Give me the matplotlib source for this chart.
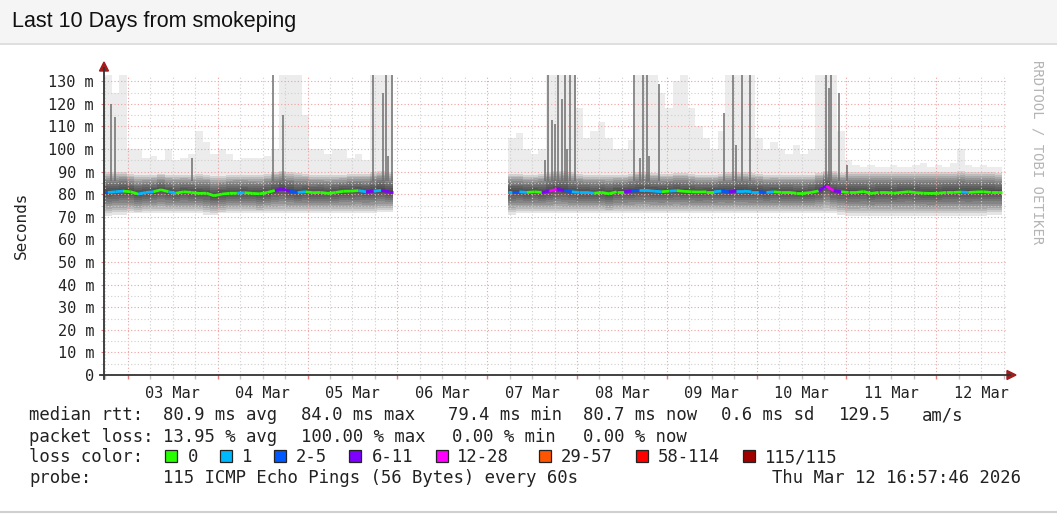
import numpy as np
import matplotlib
matplotlib.use("Agg")
import matplotlib.pyplot as plt
from matplotlib.lines import Line2D
from matplotlib.patches import Rectangle, Polygon
from matplotlib.collections import LineCollection
from matplotlib.ticker import FixedLocator, FixedFormatter

plt.rcParams['font.family'] = ['DejaVu Sans Mono']

W, H = 1057, 514

# ---------------- data (time in hours relative to 03 Mar 00:00) ----------------
title_text = 'Last 10 Days from smokeping'
day_names = ['03 Mar', '04 Mar', '05 Mar', '06 Mar', '07 Mar',
             '08 Mar', '09 Mar', '10 Mar', '11 Mar', '12 Mar']
y_ticks = [0, 10, 20, 30, 40, 50, 60, 70, 80, 90, 100, 110, 120, 130]

# segment A: 02 Mar 17:30 -> 05 Mar 22:45 (2-hour bins)
seg_a_start, seg_a_step = -6.4, 2.03
median_a = [80.8, 81.1, 81.4, 81.1, 80.1, 80.8, 81.1, 82.0, 81.1, 80.5,
            81.1, 80.8, 80.4, 80.5, 79.3, 80.1, 80.4, 80.5, 80.7, 80.4,
            80.2, 80.8, 81.7, 82.3, 81.3, 80.8, 81.1, 80.7, 80.8, 80.4,
            80.8, 81.3, 81.4, 81.6, 81.1, 81.4, 81.7, 81.1]
loss_a = [2, 1, 1, 0, 0, 1, 1, 0, 0, 1,
          0, 0, 0, 0, 0, 0, 0, 0, 1, 0,
          0, 0, 0, 3, 3, 2, 1, 0, 0, 0,
          0, 0, 0, 0, 1, 3, 1, 3]
hi_a = [90, 90, 90, 89, 88.5, 88.5, 88.5, 89, 88.5, 88.5,
        88.5, 88.5, 89, 88.5, 88, 88, 88.5, 88.5, 88.5, 88.5,
        88.5, 89, 90, 90.5, 90, 89.5, 89, 88.5, 88.5, 88.5,
        88.5, 88.5, 89, 89, 89, 90, 90.5, 90]
lo_a = [70.5, 71, 71, 71.5, 71.5, 71.5, 71.5, 71.5, 71.5, 71.5,
        71.5, 71.5, 71.5, 71, 71, 71.5, 71.5, 71.5, 71.5, 71.5,
        71.5, 71.5, 71.5, 71.5, 71.5, 71.5, 71.5, 71.5, 71.5, 71.5,
        71.5, 71.5, 71.5, 71.5, 71.5, 71.5, 72, 72]
light_a = [133, 125, 133, 100, 100, 96, 97, 95, 100, 95,
           96, 98, 108, 103, 98, 100, 98, 95, 96, 96,
           96, 97, 100, 133, 133, 133, 115, 100, 100, 98,
           100, 100, 96, 98, 95, 133, 133, 133]

# segment B: 07 Mar 05:35 -> 12 Mar 16:57 (2-hour bins)
seg_b_start, seg_b_step = 101.6, 2.0
median_b = [81.1, 81.1, 80.8, 81.1, 80.8, 81.4, 82.2, 81.7, 81.1, 80.8,
            80.8, 80.5, 80.8, 80.2, 81.1, 81.1, 81.4, 81.7, 81.7, 81.4,
            81.1, 81.4, 81.6, 81.3, 81.1, 81.0, 81.1, 81.1, 81.4, 81.1,
            81.4, 81.4, 81.1, 81.1, 80.8, 81.1, 80.8, 80.8, 80.5, 80.5,
            80.8, 81.5, 83.7, 81.5, 81.1, 80.8, 80.8, 81.2, 80.4, 80.8,
            80.8, 80.5, 80.8, 81.1, 80.7, 80.5, 80.4, 80.5, 80.8, 80.8,
            81.0, 80.8, 81.0, 81.1, 80.8, 80.8]
loss_b = [1, 2, 1, 0, 0, 3, 4, 3, 2, 1,
          1, 1, 0, 0, 0, 0, 3, 2, 1, 1,
          1, 0, 1, 0, 0, 0, 0, 0, 1, 2,
          3, 1, 1, 1, 2, 1, 0, 0, 0, 0,
          0, 0, 3, 4, 3, 0, 0, 0, 0, 0,
          0, 0, 0, 0, 0, 0, 0, 0, 0, 0,
          0, 1, 0, 0, 0, 0]
hi_b = [89, 89, 88.5, 88.5, 89, 90, 90.5, 90.5, 90, 89,
        88.5, 88.5, 88.5, 88.5, 88.5, 88.5, 89, 90, 90, 89.5,
        89, 89, 89.5, 89.5, 89, 88.5, 88.5, 88.5, 89, 90,
        90, 90, 89.5, 89, 88.5, 88.5, 88.5, 88.5, 88.5, 88.5,
        88.5, 89.5, 90.5, 90.5, 89.5, 90, 90, 90, 90, 90,
        90, 90, 90, 90, 90, 90, 90, 90, 90, 90,
        90.5, 90, 90, 90, 90, 89.5]
lo_b = [71, 71.5, 71.5, 71.5, 71.5, 71.5, 71.5, 71.5, 71.5, 71.5,
        71.5, 71.5, 71.5, 71.5, 71.5, 71.5, 71.5, 71.5, 71.5, 71.5,
        71.5, 71.5, 71.5, 71.5, 71.5, 71.5, 71.5, 71.5, 71.5, 71.5,
        71.5, 71.5, 71.5, 71.5, 71.5, 71.5, 71.5, 71.5, 71.5, 71.5,
        71.5, 71.5, 71.5, 71.5, 71, 70.5, 70.5, 70.5, 70.5, 70.5,
        70.5, 70.5, 70.5, 70.5, 70.5, 70.5, 70.5, 70.5, 70.5, 70.5,
        70.5, 70.5, 70.5, 70.5, 71, 71]
light_b = [105, 107, 100, 98, 100, 133, 133, 133, 133, 118,
           105, 108, 112, 105, 100, 100, 104, 133, 133, 133,
           125, 118, 130, 133, 118, 110, 105, 100, 108, 133,
           133, 133, 133, 105, 100, 103, 100, 98, 102, 98,
           100, 133, 133, 133, 108, 95, 93, 92, 93, 92,
           92, 93, 92, 92, 93, 94, 92, 93, 92, 94,
           100, 93, 92, 93, 92, 92]

# dark smoke spikes (hour, top in ms)
spike_hours = [-4.5, -3.5, 17.1, 38.8, 41.4, 65.5, 68.1, 68.9, 69.5, 70.6,
               111.4, 112.2, 113.3, 114.1, 114.9, 116.0, 116.8, 117.3, 118.1, 119.5,
               135.2, 136.8, 137.6, 138.7, 139.2, 141.9,
               159.3, 161.7, 162.5, 164.1, 166.2,
               186.5, 187.3, 187.9, 190.0, 192.1]
spike_tops = [120, 114, 96, 133, 115, 133, 125, 133, 97, 133,
              95, 133, 113, 111, 133, 122, 133, 100, 133, 133,
              133, 96, 133, 133, 97, 129,
              116, 133, 102, 133, 133,
              133, 127, 133, 125, 93]

loss_colors = ['#26ff00', '#00b8ff', '#0059ff', '#7e00ff',
               '#ff00ff', '#ff5500', '#ff0000', '#a00000']
loss_labels = ['0', '1', '2-5', '6-11', '12-28', '29-57', '58-114', '115/115']

median_stats = ['80.9 ms avg', '84.0 ms max', '79.4 ms min',
                '80.7 ms now', '0.6 ms sd', '129.5', 'am/s']
loss_stats = ['13.95 % avg', '100.00 % max', '0.00 % min', '0.00 % now']
probe_text = '115 ICMP Echo Pings (56 Bytes) every 60s'
stamp_text = 'Thu Mar 12 16:57:46 2026'

# ---------------- figure ----------------
fig = plt.figure(figsize=(W / 100, H / 100), dpi=100)
fig.patch.set_facecolor('white')


def fx(px):
    return px / W


def fy(py):
    return 1 - py / H


# header bar
fig.add_artist(Rectangle((0, fy(43)), 1, 43 / H, transform=fig.transFigure,
                         facecolor='#f5f5f5', edgecolor='none', zorder=0))
fig.add_artist(Line2D([0, 1], [fy(43.5), fy(43.5)], transform=fig.transFigure,
                      color='#d9d9d9', lw=1.2))
fig.text(fx(12), fy(22), title_text, family='Liberation Sans', size=15.5,
         color='#111111', ha='left', va='center')
fig.add_artist(Line2D([0, 1], [fy(511.5), fy(511.5)], transform=fig.transFigure,
                      color='#d0d0d0', lw=1.5))

ax = fig.add_axes([fx(104), fy(375), (1007 - 104) / W, (375 - 74.5) / H])
ax.set_xlim(-6.4, 234.9)
ax.set_ylim(0, 133)
ax.set_facecolor('white')
for s in ax.spines.values():
    s.set_visible(False)

# ticks / grid
day_hours = [24 * i for i in range(len(day_names))]
six_hours = [h for h in range(-6, 235, 6) if h % 24 != 0]
ax.xaxis.set_major_locator(FixedLocator(day_hours))
ax.xaxis.set_major_formatter(FixedFormatter([''] * len(day_hours)))
ax.xaxis.set_minor_locator(FixedLocator(six_hours))
ax.xaxis.set_minor_formatter(FixedFormatter(
    [day_names[(h - 12) // 24] if h % 24 == 12 else '' for h in six_hours]))
ax.tick_params(axis='x', which='major', length=3, color='#e08080', width=1)
ax.tick_params(axis='x', which='minor', length=3, color='#c0c0c0', width=1,
               labelsize=11, pad=5, labelcolor='#222222')
ax.yaxis.set_major_locator(FixedLocator(y_ticks))
ax.yaxis.set_major_formatter(FixedFormatter([f'{v} m' if v else '0' for v in y_ticks]))
ax.yaxis.set_minor_locator(FixedLocator([v + 5 for v in y_ticks[:-1]]))
ax.tick_params(axis='y', which='major', length=2.5, color='#e08080',
               labelsize=11, pad=4.7, labelcolor='#222222')
ax.tick_params(axis='y', which='minor', length=2.5, color='#c0c0c0')
ax.set_axisbelow(False)
ax.grid(which='major', color='#f0a0a0', lw=0.8, ls=(0, (1, 2)))
ax.grid(which='minor', color='#cfcfcf', lw=0.8, ls=(0, (1, 2)))


def stair(v):
    v = np.asarray(v, dtype=float)
    return np.append(v, v[-1])


def draw_segment(start, step, med, loss, hi, lo, light):
    n = len(med)
    edges = start + step * np.arange(n + 1)
    m, h, l, lt = stair(med), stair(hi), stair(lo), stair(light)
    ax.fill_between(edges, m, lt, step='post', color='#ececec', lw=0, zorder=1)
    for f in np.linspace(1.0, 0.1, 10):
        ax.fill_between(edges, m - (m - l) * f, m + (h - m) * f, step='post',
                        color='black', alpha=0.1, lw=0, zorder=1.5)
    centers = start + step * (np.arange(n) + 0.5)
    xs = np.concatenate([[edges[0]], centers, [edges[-1]]])
    ys = np.concatenate([[med[0]], med, [med[-1]]])
    cls = [loss[0]] + list(loss) + [loss[-1]]
    segs = [[(xs[i], ys[i]), (xs[i + 1], ys[i + 1])] for i in range(len(xs) - 1)]
    cols = [loss_colors[cls[i + 1]] for i in range(len(segs))]
    ax.add_collection(LineCollection(segs, colors=cols, linewidths=2.0,
                                     capstyle='butt', zorder=4))


draw_segment(seg_a_start, seg_a_step, median_a, loss_a, hi_a, lo_a, light_a)
draw_segment(seg_b_start, seg_b_step, median_b, loss_b, hi_b, lo_b, light_b)
ax.vlines(spike_hours, 86, spike_tops, color='#6e6e6e', lw=1.1, zorder=3)

# axis lines with arrows
axis_col = '#333333'
arrow_col = '#a31c1c'
fig.add_artist(Line2D([fx(104), fx(104)], [fy(379), fy(68)], transform=fig.transFigure,
                      color=axis_col, lw=1.3))
fig.add_artist(Line2D([fx(100), fx(1010)], [fy(375), fy(375)], transform=fig.transFigure,
                      color=axis_col, lw=1.3))
fig.add_artist(Polygon([(fx(104), fy(62)), (fx(99.5), fy(71)), (fx(108.5), fy(71))],
                       closed=True, transform=fig.transFigure, color=arrow_col))
fig.add_artist(Polygon([(fx(1016), fy(375)), (fx(1007), fy(370.5)), (fx(1007), fy(379.5))],
                       closed=True, transform=fig.transFigure, color=arrow_col))

fig.text(fx(21), fy(225), 'Seconds', rotation=90, ha='center', va='center',
         size=11.5, color='#222222')
fig.text(fx(1037), fy(152), 'RRDTOOL / TOBI OETIKER', rotation=270, ha='center',
         va='center', size=10, color='#b5b5b5')

# legend
LS = 12.4
TC = '#222222'


def ltext(x, y, s):
    fig.text(fx(x), fy(y), s, size=LS, color=TC, ha='left', va='baseline')


ltext(29, 420, 'median rtt:')
for s, x in zip(median_stats, [163, 301, 448, 583, 721, 839, 922]):
    ltext(x, 420, s)
ltext(29, 441.5, 'packet loss:')
for s, x in zip(loss_stats, [163, 301, 452, 583]):
    ltext(x, 441.5, s)
ltext(29, 462, 'loss color:')
box_x = [165, 220, 274, 349, 436, 539, 636, 743]
lab_x = [188, 242, 296, 372, 457, 561, 658, 765]
for c, lab, bx, lx in zip(loss_colors, loss_labels, box_x, lab_x):
    fig.add_artist(Rectangle((fx(bx), fy(462)), 11.5 / W, 12 / H, transform=fig.transFigure,
                             facecolor=c, edgecolor='#222222', lw=0.9))
    ltext(lx, 462, lab)
ltext(29, 483, 'probe:')
ltext(163, 483, probe_text)
ltext(772, 483, stamp_text)

fig.savefig('out.png', dpi=100)
